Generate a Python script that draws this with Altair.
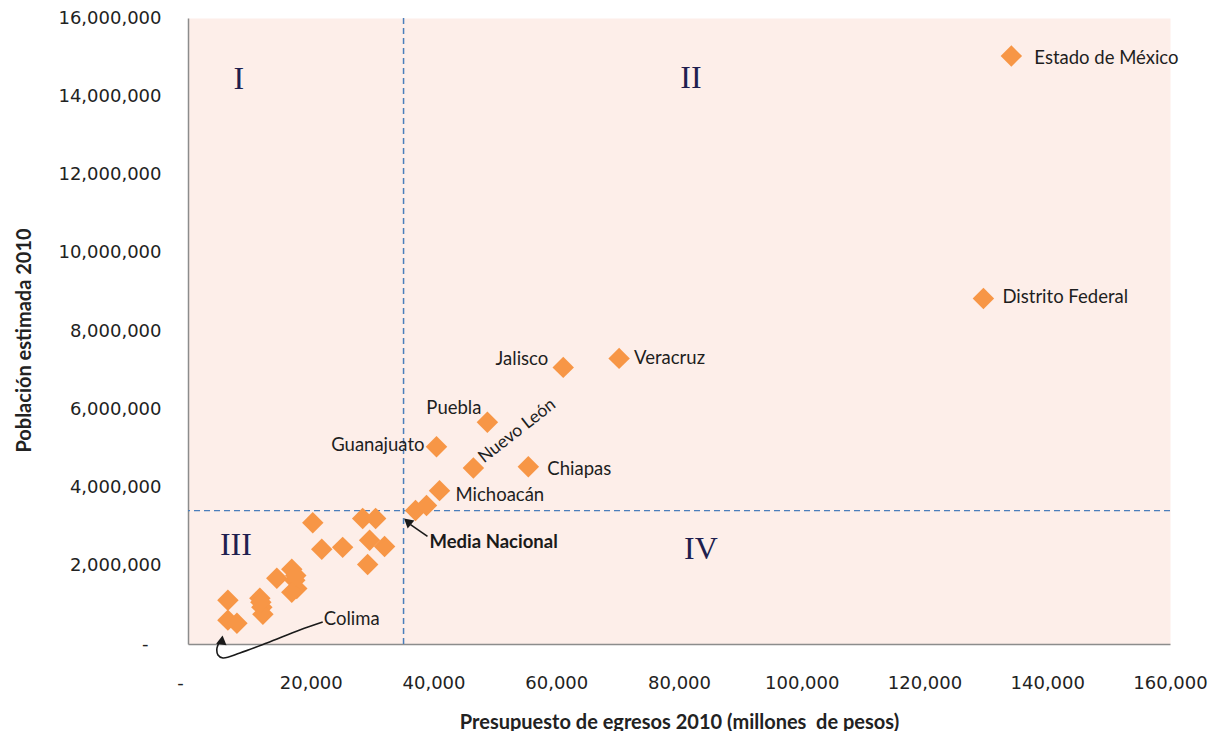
import altair as alt
import pandas as pd

# ---------------- data ----------------
estados = ["Estado de México", "Distrito Federal", "Veracruz", "Jalisco", "Puebla",
           "Guanajuato", "Nuevo León", "Chiapas", "Michoacán", "e10", "e11",
           "e12", "e13", "e14", "e15", "e16", "e17", "e18", "e19", "e20", "e21",
           "e22", "e23", "e24", "e25", "e26", "e27", "e28", "e29", "e30", "Colima", "e32"]
presupuesto = [134150, 129600, 70240, 61140, 48780, 40490, 46500, 55450, 40980, 37070, 38860,
               20330, 28460, 30570, 21790, 25200, 29590, 32030, 29270, 14470, 16910,
               17400, 17720, 16910, 17560, 11710, 12030, 12200, 11870, 6500, 6500, 7970]
poblacion = [15030000, 8830000, 7300000, 7070000, 5670000, 5040000, 4500000, 4530000, 3920000,
             3410000, 3540000, 3100000, 3210000, 3210000, 2420000, 2470000, 2650000, 2490000,
             2030000, 1680000, 1910000, 1630000, 1420000, 1320000, 1750000, 1170000, 940000,
             760000, 1070000, 1120000, 610000, 530000]

media_x = 35120
media_y = 3410000

x_ticks = [0, 20000, 40000, 60000, 80000, 100000, 120000, 140000, 160000]
y_ticks = [0, 2000000, 4000000, 6000000, 8000000, 10000000, 12000000, 14000000, 16000000]

cuadrantes = ["I", "II", "III", "IV"]
cuad_x = [8290, 81950, 7800, 83580]
cuad_y = [14450000, 14470000, 2520000, 2420000]

colima_label_x = [21950]
colima_label_y = [636000]
colima_arrow_x = [21950, 18210, 12850, 8460, 5690, 4880, 4720, 5200]
colima_arrow_y = [560000, 356000, 25000, -229000, -356000, -280000, -102000, 76000]
colima_head = (5530, 100000)

media_arrow_x = [39020, 36260]
media_arrow_y = [2750000, 3050000]
media_head = (35770, 3130000)

# ---------------- chart ----------------
df = pd.DataFrame({"estado": estados, "presupuesto": presupuesto, "poblacion": poblacion})

xscale = alt.Scale(domain=[0, 160000], nice=False, zero=True)
yscale = alt.Scale(domain=[0, 16000000], nice=False, zero=True)

x_axis = alt.Axis(
    values=x_ticks, grid=False, ticks=False, domainColor="#8c8c8c", domainWidth=1.5,
    labelFlush=False, labelOverlap=False,
    labelExpr="datum.value == 0 ? '-' : format(datum.value, ',')",
    labelOffset={"condition": {"test": "datum.value == 0", "value": -8}, "value": 0},
    labelFont="DejaVu Sans", labelFontSize=18, labelColor="#222222", labelPadding=30,
    title="Presupuesto de egresos 2010 (millones\u00a0 de pesos)", titleFont="Lato",
    titleFontSize=20, titleFontWeight="bold", titleColor="#222222",
    titleY=84, titleBaseline="alphabetic",
)
y_axis = alt.Axis(
    values=y_ticks, grid=False, ticks=False, domainColor="#8c8c8c", domainWidth=1.5,
    labelFlush=False, labelOverlap=False,
    labelExpr="datum.value == 0 ? '-' : format(datum.value, ',')",
    labelPadding={"condition": {"test": "datum.value == 0", "value": 40}, "value": 27},
    labelFont="DejaVu Sans", labelFontSize=18, labelColor="#222222",
    title="Población estimada  2010", titleFont="Lato", titleFontSize=20,
    titleFontWeight="bold", titleColor="#222222",
    titleX=-164, titleY=322, titleAngle=270, titleAlign="center", titleBaseline="middle",
)

X = alt.X("presupuesto:Q", scale=xscale, axis=x_axis)
Y = alt.Y("poblacion:Q", scale=yscale, axis=y_axis)

base = alt.Chart(df)

vrule = alt.Chart(pd.DataFrame({"v": [media_x]})).mark_rule(
    color="#4a7ebb", strokeDash=[6, 4], strokeWidth=1.5
).encode(x=alt.X("v:Q", scale=xscale))
hrule = alt.Chart(pd.DataFrame({"v": [media_y]})).mark_rule(
    color="#4a7ebb", strokeDash=[6, 4], strokeWidth=1.4
).encode(y=alt.Y("v:Q", scale=yscale))

points = base.mark_point(shape="diamond", filled=True, size=460, color="#f79646", opacity=1).encode(x=X, y=Y)


def label(name, dx, dy, align, angle=0, size=18.5):
    kw = dict(align=align, baseline="middle", dx=dx, dy=dy, font="Lato", fontSize=size, color="#1e1e1e")
    if angle:
        kw["angle"] = angle
    return base.transform_filter(alt.datum.estado == name).mark_text(**kw).encode(
        x=alt.X("presupuesto:Q", scale=xscale), y=alt.Y("poblacion:Q", scale=yscale), text="estado:N")


labels = [
    label("Estado de México", 23, 2, "left"),
    label("Distrito Federal", 19, -2, "left"),
    label("Veracruz", 15, 0, "left"),
    label("Jalisco", -15, -8, "right"),
    label("Puebla", -6, -14, "right"),
    label("Guanajuato", -12, -2, "right"),
    label("Nuevo León", 11, -2, "left", angle=322, size=17.5),
    label("Chiapas", 19, 2, "left"),
    label("Michoacán", 16, 4, "left"),
]

quad = alt.Chart(pd.DataFrame({"t": cuadrantes, "x": cuad_x, "y": cuad_y})).mark_text(
    font="Liberation Serif", fontSize=32, color="#1f1f4f", align="center", baseline="middle"
).encode(x=alt.X("x:Q", scale=xscale), y=alt.Y("y:Q", scale=yscale), text="t:N")

media_text = alt.Chart(pd.DataFrame({"x": [media_x], "y": [media_y], "t": ["Media Nacional"]})).mark_text(
    font="Lato", fontSize=18.5, fontWeight="bold", color="#1a1a1a", align="left", baseline="middle",
    dx=26, dy=31
).encode(x=alt.X("x:Q", scale=xscale), y=alt.Y("y:Q", scale=yscale), text="t:N")

colima_text = alt.Chart(pd.DataFrame({"x": colima_label_x, "y": colima_label_y, "t": ["Colima"]})).mark_text(
    font="Lato", fontSize=18.5, color="#1e1e1e", align="left", baseline="middle", dx=1
).encode(x=alt.X("x:Q", scale=xscale), y=alt.Y("y:Q", scale=yscale), text="t:N")

colima_line = alt.Chart(pd.DataFrame({"x": colima_arrow_x, "y": colima_arrow_y,
                                      "i": list(range(len(colima_arrow_x)))})).mark_line(
    color="#1a1a1a", strokeWidth=1.6, interpolate="catmull-rom"
).encode(x=alt.X("x:Q", scale=xscale), y=alt.Y("y:Q", scale=yscale), order="i:Q")

colima_tip = alt.Chart(pd.DataFrame({"x": [colima_head[0]], "y": [colima_head[1]]})).mark_point(
    shape="triangle-up", filled=True, size=110, color="#1a1a1a", opacity=1, angle=8
).encode(x=alt.X("x:Q", scale=xscale), y=alt.Y("y:Q", scale=yscale))

media_line = alt.Chart(pd.DataFrame({"x": media_arrow_x, "y": media_arrow_y})).mark_line(
    color="#1a1a1a", strokeWidth=1.6
).encode(x=alt.X("x:Q", scale=xscale), y=alt.Y("y:Q", scale=yscale))

media_tip = alt.Chart(pd.DataFrame({"x": [media_head[0]], "y": [media_head[1]]})).mark_point(
    shape="triangle-up", filled=True, size=110, color="#1a1a1a", opacity=1, angle=310
).encode(x=alt.X("x:Q", scale=xscale), y=alt.Y("y:Q", scale=yscale))

chart = alt.layer(
    vrule, hrule, points, *labels, quad, media_text, colima_text,
    colima_line, colima_tip, media_line, media_tip
).properties(
    width=982, height=626,
    autosize=alt.AutoSizeParams(type="none"),
    padding={"left": 180, "top": 10, "right": 40, "bottom": 87},
    background="white",
).configure_view(fill="#fdeee9", stroke="transparent")

chart.save("out.html", embed_options={"renderer": "svg", "actions": False})
